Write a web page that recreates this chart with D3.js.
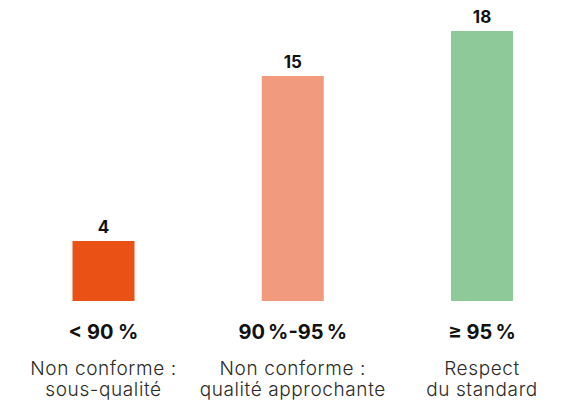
<!DOCTYPE html>
<html>
<head>
<meta charset="utf-8">
<script src="https://cdn.jsdelivr.net/npm/d3@7"></script>
<style>
  html, body { margin: 0; padding: 0; background: #fff; }
  svg { display: block; font-family: Inter, "Open Sans", sans-serif; }
</style>
</head>
<body>
<svg id="chart" width="566" height="401"></svg>
<script>
// Compliance classes and the number of sites in each
const categories = ["< 90 %", "90\u202F%-95\u202F%", "\u2265 95\u202F%"];
const subtitles = [
  ["Non conforme :", "sous-qualit\u00e9"],
  ["Non conforme :", "qualit\u00e9 approchante"],
  ["Respect", "du standard"]
];
const counts = [4, 15, 18];
const colors = ["#EA5115", "#F29A7D", "#8EC99A"];

const svg = d3.select("#chart");
const baseline = 301;
const barWidth = 62;

const x = d3.scalePoint().domain(categories).range([103.5, 482]);
const y = d3.scaleLinear().domain([0, 18]).range([baseline, 31]);

const data = categories.map((c, i) => ({ cat: c, value: counts[i], color: colors[i], sub: subtitles[i] }));

// Bars
svg.selectAll("rect.bar")
  .data(data)
  .join("rect")
  .attr("class", "bar")
  .attr("x", d => x(d.cat) - barWidth / 2)
  .attr("y", d => y(d.value))
  .attr("width", barWidth)
  .attr("height", d => baseline - y(d.value))
  .attr("fill", d => d.color);

// Value labels above the bars
svg.selectAll("text.value")
  .data(data)
  .join("text")
  .attr("class", "value")
  .attr("x", d => x(d.cat))
  .attr("y", d => y(d.value) - 8)
  .attr("text-anchor", "middle")
  .attr("font-size", 17)
  .attr("font-weight", 700)
  .attr("fill", "#111")
  .text(d => d.value);

// Category labels
svg.selectAll("text.cat")
  .data(data)
  .join("text")
  .attr("class", "cat")
  .attr("x", d => x(d.cat))
  .attr("y", 339)
  .attr("text-anchor", "middle")
  .attr("font-size", 20)
  .attr("font-weight", 700)
  .attr("fill", "#111")
  .text(d => d.cat);

// Two-line descriptions
const sub = svg.selectAll("text.sub")
  .data(data)
  .join("text")
  .attr("class", "sub")
  .attr("text-anchor", "middle")
  .attr("font-size", 19)
  .attr("font-weight", 300)
  .attr("letter-spacing", 0.6)
  .attr("fill", "#2a2a2a");

sub.selectAll("tspan")
  .data(d => d.sub.map((s, j) => ({ s, j, cx: x(d.cat) })))
  .join("tspan")
  .attr("x", t => t.cx)
  .attr("y", t => 375 + t.j * 21)
  .text(t => t.s);
</script>
</body>
</html>
